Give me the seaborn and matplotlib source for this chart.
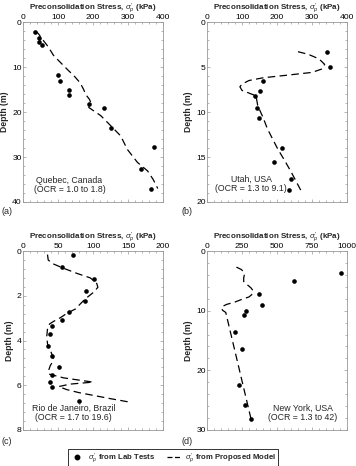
import numpy as np
import pandas as pd
import matplotlib
matplotlib.use("Agg")
import matplotlib.pyplot as plt
from matplotlib.ticker import MultipleLocator
from matplotlib.lines import Line2D
import seaborn as sns

sns.set_theme(style="white")
plt.rcParams['font.family'] = ['Liberation Sans', 'DejaVu Sans']
plt.rcParams['mathtext.fontset'] = 'custom'
plt.rcParams['mathtext.it'] = 'Liberation Sans:italic'
plt.rcParams['mathtext.rm'] = 'Liberation Sans'

# ---------------- data ----------------
# (a) Quebec, Canada
a_lab_stress = [35, 45, 47, 54, 100, 105, 130, 130, 189, 232, 252, 373, 336, 365]
a_lab_depth = [2.3, 3.5, 4.4, 5.1, 11.7, 13.2, 15.0, 16.3, 18.3, 19.2, 23.5, 27.8, 32.7, 37.2]
a_mod_stress = [36, 45, 58, 72, 87, 102, 116, 130, 145, 162, 172, 180, 190, 193, 188, 205, 222, 250, 279, 298, 327, 356, 372, 385]
a_mod_depth = [2.0, 2.7, 4.1, 5.5, 7.4, 8.6, 9.7, 10.8, 11.9, 13.4, 14.8, 16.2, 17.2, 17.8, 19.0, 19.9, 20.8, 23.0, 25.3, 28.3, 31.2, 33.1, 35.0, 37.0]

# (b) Utah, USA
b_lab_stress = [342, 350, 161, 152, 137, 144, 148, 214, 190, 241, 235]
b_lab_depth = [3.3, 5.0, 6.6, 7.7, 8.25, 9.6, 10.7, 14.0, 15.5, 17.4, 18.7]
b_mod_stress = [260, 290, 320, 336, 330, 300, 231, 160, 120, 100, 94, 100, 120, 140, 145, 160, 173, 202, 222, 241, 268]
b_mod_depth = [3.3, 3.6, 4.1, 4.7, 5.2, 5.6, 5.9, 6.2, 6.5, 6.9, 7.2, 7.6, 7.9, 8.2, 9.3, 10.6, 11.9, 14.1, 15.4, 16.7, 18.7]

# (c) Rio de Janeiro, Brazil
c_lab_stress = [71, 55, 102, 90, 88, 66, 56, 41, 39, 35, 41, 51, 41, 38, 41, 80]
c_lab_depth = [0.2, 0.7, 1.25, 1.81, 2.22, 2.72, 3.08, 3.35, 3.72, 4.25, 4.70, 5.18, 5.56, 5.84, 6.10, 6.72]
c_mod_stress = [35, 36, 42, 57, 77, 96, 105, 107, 101, 89, 82, 75, 63, 53, 44, 38, 35, 34, 35, 38, 41, 43, 42, 39, 37, 37, 58, 100, 67, 51, 63, 80, 100, 125, 150]
c_mod_depth = [0.16, 0.40, 0.56, 0.76, 1.0, 1.2, 1.42, 1.62, 1.84, 2.14, 2.36, 2.59, 2.78, 2.99, 3.14, 3.26, 3.48, 3.8, 4.15, 4.37, 4.59, 4.82, 4.97, 5.12, 5.3, 5.5, 5.67, 5.86, 5.95, 6.06, 6.2, 6.33, 6.45, 6.6, 6.74]

# (d) New York, USA
d_lab_stress = [957, 619, 372, 396, 276, 264, 197, 249, 225, 271, 314]
d_lab_depth = [3.7, 5.0, 7.2, 9.1, 10.0, 10.8, 13.5, 16.4, 22.4, 25.8, 28.2]
d_mod_stress = [210, 245, 262, 268, 262, 262, 285, 315, 330, 325, 300, 250, 194, 140, 110, 103, 112, 134, 314]
d_mod_depth = [2.7, 3.1, 3.5, 3.9, 4.5, 5.1, 5.6, 6.2, 6.7, 7.2, 7.7, 8.1, 8.6, 8.95, 9.3, 9.6, 9.95, 10.3, 28.1]

panels = [
    dict(tag="(a)", lab=(a_lab_stress, a_lab_depth), mod=(a_mod_stress, a_mod_depth),
         xlim=(0, 400), xstep=100, xminor=20, ylim=(40, 0), ystep=10, yminor=2,
         text="Quebec, Canada\n(OCR = 1.0 to 1.8)", tpos=(133, 36.2)),
    dict(tag="(b)", lab=(b_lab_stress, b_lab_depth), mod=(b_mod_stress, b_mod_depth),
         xlim=(0, 400), xstep=100, xminor=20, ylim=(20, 0), ystep=5, yminor=1,
         text="Utah, USA\n(OCR = 1.3 to 9.1)", tpos=(126, 18.0)),
    dict(tag="(c)", lab=(c_lab_stress, c_lab_depth), mod=(c_mod_stress, c_mod_depth),
         xlim=(0, 200), xstep=50, xminor=10, ylim=(8, 0), ystep=2, yminor=0.4,
         text="Rio de Janeiro, Brazil\n(OCR = 1.7 to 19.6)", tpos=(72, 7.23)),
    dict(tag="(d)", lab=(d_lab_stress, d_lab_depth), mod=(d_mod_stress, d_mod_depth),
         xlim=(0, 1000), xstep=250, xminor=50, ylim=(30, 0), ystep=10, yminor=2,
         text="New York, USA\n(OCR = 1.3 to 42)", tpos=(686, 27.1)),
]

W, H = 356, 466
fig = plt.figure(figsize=(W / 100, H / 100), dpi=100)
fig.patch.set_facecolor("white")

boxes = [(23, 22, 163, 202), (207, 22, 347, 202), (23, 251, 163, 430), (207, 251, 347, 430)]
tagpos = [(2, 212), (181, 212), (2, 442), (181, 442)]

frame_col = "0.6"
for p, (l, t, r, b), (tx, ty) in zip(panels, boxes, tagpos):
    ax = fig.add_axes([l / W, 1 - b / H, (r - l) / W, (b - t) / H])
    df_lab = pd.DataFrame({"stress": p["lab"][0], "depth": p["lab"][1]})
    df_mod = pd.DataFrame({"stress": p["mod"][0], "depth": p["mod"][1]})
    sns.lineplot(data=df_mod, x="stress", y="depth", sort=False, estimator=None,
                 color="black", lw=0.9, dashes=False, ax=ax, linestyle=(0, (6, 3.5)))
    sns.scatterplot(data=df_lab, x="stress", y="depth", color="black", s=11,
                    edgecolor="black", linewidth=0, ax=ax, zorder=3)
    ax.set_xlim(*p["xlim"])
    ax.set_ylim(*p["ylim"])
    ax.xaxis.tick_top()
    ax.xaxis.set_label_position("top")
    ax.xaxis.set_major_locator(MultipleLocator(p["xstep"]))
    ax.xaxis.set_minor_locator(MultipleLocator(p["xminor"]))
    ax.yaxis.set_major_locator(MultipleLocator(p["ystep"]))
    ax.yaxis.set_minor_locator(MultipleLocator(p["yminor"]))
    ax.tick_params(which="both", direction="in", top=True, bottom=True, left=True, right=True,
                   color=frame_col, width=0.5)
    ax.tick_params(which="major", length=2.5, labelsize=6.1, pad=1.0, labelcolor="black")
    ax.tick_params(which="minor", length=1.3)
    ax.tick_params(axis="x", labelbottom=False, labeltop=True)
    for s in ax.spines.values():
        s.set_color(frame_col)
        s.set_linewidth(0.6)
    ax.set_xlabel(r"Preconsolidation Stress, $\sigma_p'$ (kPa)", fontsize=5.8,
                  fontweight="bold", labelpad=3.0)
    ax.set_ylabel("Depth (m)", fontsize=6.2, fontweight="bold", labelpad=2)
    ax.text(p["tpos"][0], p["tpos"][1], p["text"], ha="center", va="center",
            fontsize=6.3, linespacing=1.1)
    fig.text(tx / W, 1 - ty / H, p["tag"], ha="left", va="center", fontsize=6.5)

handles = [
    Line2D([], [], marker="o", color="black", linestyle="none", markersize=3.2),
    Line2D([], [], color="black", lw=0.9, linestyle=(0, (4, 2))),
]
labels = [r"$\sigma_p'$ from Lab Tests", r"$\sigma_p'$ from Proposed Model"]
leg = fig.legend(handles, labels, loc="center", bbox_to_anchor=(173 / W, 1 - 458 / H),
                 ncol=2, frameon=True, fancybox=False, borderpad=0.25,
                 handlelength=1.8, handletextpad=0.5, columnspacing=1.6,
                 prop={"weight": "bold", "size": 5.6})
leg.get_frame().set_edgecolor("black")
leg.get_frame().set_linewidth(0.7)

fig.savefig("out.png", dpi=100, facecolor="white")
